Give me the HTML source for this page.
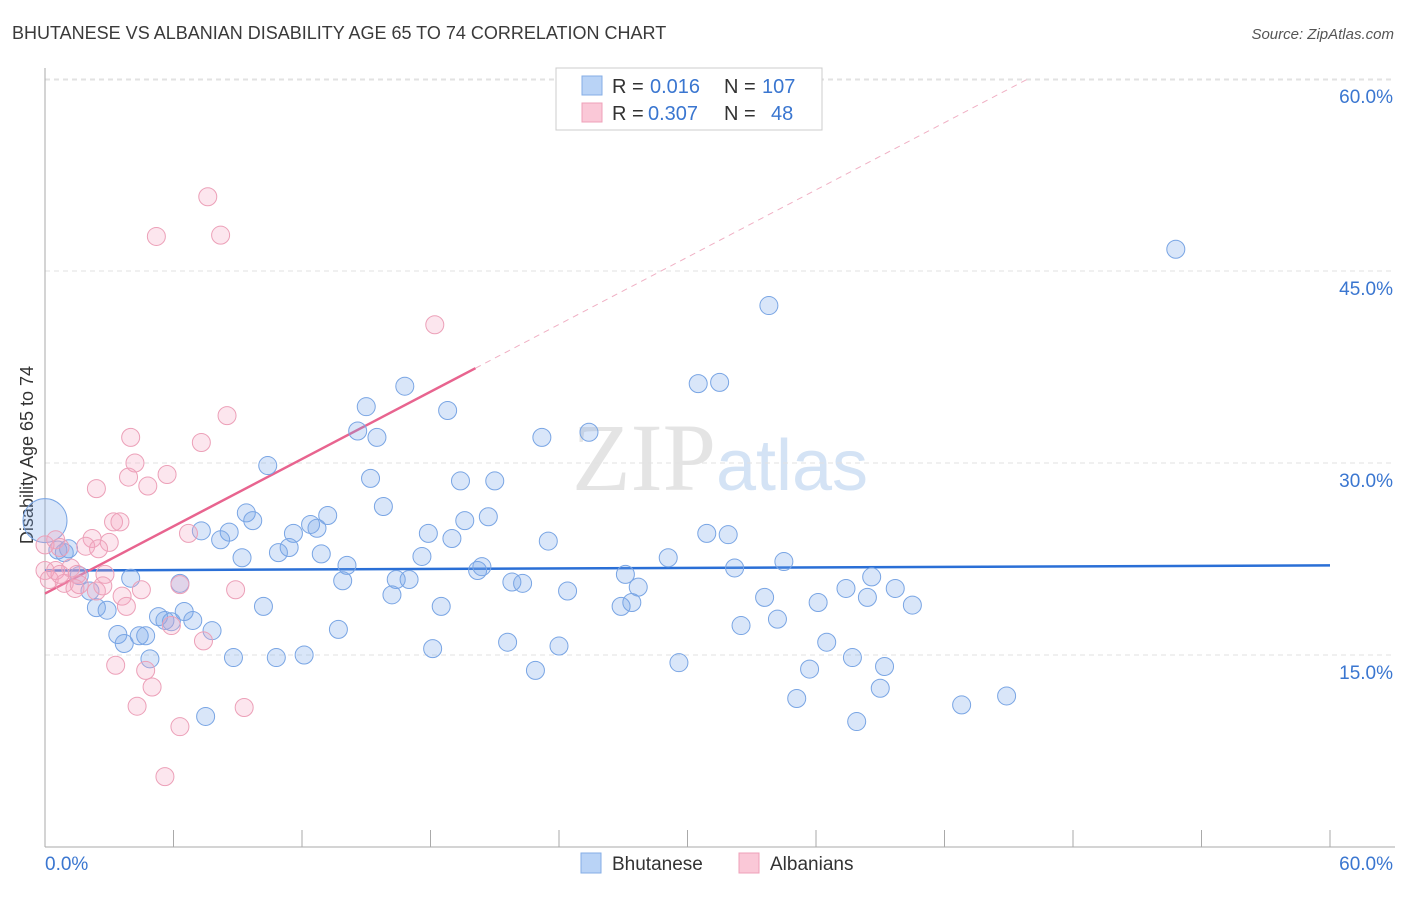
<!DOCTYPE html>
<html><head><meta charset="utf-8"><style>
body{margin:0;background:#fff;font-family:"Liberation Sans",sans-serif}
</style></head><body>
<svg id="chart" width="1406" height="892" viewBox="0 0 1406 892" xmlns="http://www.w3.org/2000/svg" font-family="Liberation Sans, sans-serif">
<text x="12" y="39" font-size="18" fill="#3a3a3a">BHUTANESE VS ALBANIAN DISABILITY AGE 65 TO 74 CORRELATION CHART</text>
<text x="1394" y="39" font-size="15" fill="#555" text-anchor="end" font-style="italic">Source: ZipAtlas.com</text>
<text x="720" y="490" font-size="96" text-anchor="middle" fill="#e4e4e4" font-family="Liberation Serif, serif">ZIP<tspan fill="#d4e3f5" font-family="Liberation Sans, sans-serif" font-size="72">atlas</tspan></text>
<text transform="translate(33,455) rotate(-90)" font-size="18" fill="#333" text-anchor="middle">Disability Age 65 to 74</text>
<g id="grid"></g><g id="axes"></g><g id="trend"></g><g id="pts"></g>
<g font-size="20">
<rect x="556" y="68" width="266" height="62" fill="#fff" stroke="#ccc"/>
<rect x="582" y="76" width="20" height="19" fill="#b9d3f6" stroke="#85aee6"/>
<rect x="582" y="103" width="20" height="19" fill="#fac8d7" stroke="#efa0b8"/>
<text x="612" y="93" fill="#333">R =</text><text x="650" y="93" fill="#3a76d0">0.016</text>
<text x="724" y="93" fill="#333">N =</text><text x="762" y="93" fill="#3a76d0">107</text>
<text x="612" y="120" fill="#333">R =</text><text x="648" y="120" fill="#3a76d0">0.307</text>
<text x="724" y="120" fill="#333">N =</text><text x="771" y="120" fill="#3a76d0">48</text>
</g>
<g>
<rect x="581" y="853" width="20" height="20" fill="#b9d3f6" stroke="#85aee6"/>
<text x="612" y="870" font-size="19" fill="#333">Bhutanese</text>
<rect x="739" y="853" width="20" height="20" fill="#fac8d7" stroke="#efa0b8"/>
<text x="770" y="870" font-size="19" fill="#333">Albanians</text>
</g>
</svg>
<script>
const yTicks=[15,30,45,60];
const yTickLabels=["15.0%","30.0%","45.0%","60.0%"];
const xTicks=[0,6,12,18,24,30,36,42,48,54,60];
const blueX=[52.8,33.8,16.8,30.5,31.5,15.0,18.8,14.6,15.5,23.2,25.4,10.4,15.2,19.4,21.0,15.8,9.4,9.7,13.2,12.4,12.7,20.7,19.6,11.6,17.9,19.0,7.3,8.6,8.2,30.9,31.9,23.5,11.4,10.9,12.9,9.2,14.1,17.6,29.1,34.5,20.2,20.4,32.2,27.1,38.6,0.6,1.1,0.9,1.6,4.0,13.9,16.4,17.0,21.8,22.3,27.7,37.4,39.7,38.4,6.3,16.2,24.4,2.1,2.4,2.9,10.2,18.5,26.9,27.4,33.6,36.1,40.5,5.3,5.6,6.5,6.9,5.9,34.2,3.4,3.7,4.4,4.7,7.8,13.7,32.5,36.5,21.6,24.0,18.1,4.9,8.8,10.8,12.1,29.6,37.7,39.2,35.7,22.9,39.0,35.1,42.8,44.9,7.5,37.9,0.0];
const blueY=[46.7,42.3,36.0,36.2,36.3,34.4,34.1,32.5,32.0,32.0,32.4,29.8,28.8,28.6,28.6,26.6,26.1,25.5,25.9,25.2,24.9,25.8,25.5,24.5,24.5,24.1,24.7,24.6,24.0,24.5,24.4,23.9,23.4,23.0,22.9,22.6,22.0,22.7,22.6,22.3,21.6,21.9,21.8,21.3,21.1,23.2,23.3,23.0,21.2,21.0,20.8,20.9,20.9,20.7,20.6,20.3,20.2,20.2,19.5,20.6,19.7,20.0,20.0,18.7,18.5,18.8,18.8,18.8,19.1,19.5,19.1,18.9,18.0,17.7,18.4,17.7,17.6,17.8,16.6,15.9,16.5,16.5,16.9,17.0,17.3,16.0,16.0,15.7,15.5,14.7,14.8,14.8,15.0,14.4,14.8,14.1,13.9,13.8,12.4,11.6,11.1,11.8,10.2,9.8,25.5];
const pinkX=[7.6,5.2,8.2,18.2,8.5,4.0,7.3,4.2,3.9,5.7,4.8,2.4,6.7,3.2,3.5,2.2,1.9,3.0,2.5,0.5,0.7,0.0,1.2,0.5,1.5,2.8,0.9,1.4,2.4,1.6,2.7,4.5,3.6,6.3,3.8,8.9,5.9,7.4,3.3,4.7,5.0,4.3,9.3,6.3,5.6,0.0,0.2,0.7];
const pinkY=[50.8,47.7,47.8,40.8,33.7,32.0,31.6,30.0,28.9,29.1,28.2,28.0,24.5,25.4,25.4,24.1,23.5,23.8,23.3,24.0,23.4,23.6,21.8,21.6,21.3,21.3,20.6,20.2,20.0,20.5,20.4,20.1,19.6,20.5,18.8,20.1,17.3,16.1,14.2,13.8,12.5,11.0,10.9,9.4,5.5,21.6,20.9,21.3];
const blueTrend=[21.6,22.0];
const pinkTrend=[19.8,0.876];
const NS="http://www.w3.org/2000/svg";
const X=v=>45+v*(1285/60), Y=v=>847-v*12.8;
function mk(t,a,p){const e=document.createElementNS(NS,t);for(const k in a)e.setAttribute(k,a[k]);document.getElementById(p).appendChild(e);return e;}
mk('line',{x1:45,x2:1395,y1:80,y2:80,stroke:'#e2e2e2','stroke-dasharray':'5,4'},'grid');
yTicks.forEach((t,i)=>{
 const l=mk('line',{x1:45,x2:1395,y1:Y(t),y2:Y(t),stroke:'#e2e2e2','stroke-dasharray':'5,4'},'grid');
 
 
 const tx=mk('text',{x:1393,y:Y(t)+24,'font-size':19,fill:'#3a76d0','text-anchor':'end'},'axes');
 tx.textContent=yTickLabels[i];
 
 
});
mk('line',{x1:45,x2:45,y1:68,y2:847,stroke:'#aaa'},'axes');
mk('line',{x1:45,x2:1395,y1:847,y2:847,stroke:'#aaa'},'axes');
xTicks.forEach(t=>{const l=mk('line',{x1:X(t),x2:X(t),y1:830,y2:847,stroke:'#aaa'},'axes');
 
 });
let a=mk('text',{x:45,y:870,'font-size':19,fill:'#3a76d0'},'axes');a.textContent='0.0%';


a=mk('text',{x:1393,y:870,'font-size':19,fill:'#3a76d0','text-anchor':'end'},'axes');a.textContent='60.0%';


blueX.forEach((x,i)=>{const c=mk('circle',{cx:X(x),cy:Y(blueY[i]),r:(i==blueX.length-1)?22:9,fill:'rgba(120,165,235,0.28)',stroke:'#79a5e4','stroke-width':1},'pts');
 
 });
pinkX.forEach((x,i)=>{const c=mk('circle',{cx:X(x),cy:Y(pinkY[i]),r:9,fill:'rgba(245,165,195,0.28)',stroke:'#eca0b8','stroke-width':1},'pts');
 
 });
let l=mk('line',{x1:X(0),x2:X(60),y1:Y(blueTrend[0]),y2:Y(blueTrend[1]),stroke:'#2a6fd6','stroke-width':2.5},'trend');


const pe=(60-pinkTrend[0])/pinkTrend[1];
l=mk('line',{x1:X(20.1),x2:X(pe),y1:Y(pinkTrend[0]+pinkTrend[1]*20.1),y2:Y(60),stroke:'#f0b0c4','stroke-width':1,'stroke-dasharray':'6,5'},'trend');


l=mk('line',{x1:X(0),x2:X(20.1),y1:Y(pinkTrend[0]),y2:Y(pinkTrend[0]+pinkTrend[1]*20.1),stroke:'#e8648f','stroke-width':2.5},'trend');


</script>
</body></html>
